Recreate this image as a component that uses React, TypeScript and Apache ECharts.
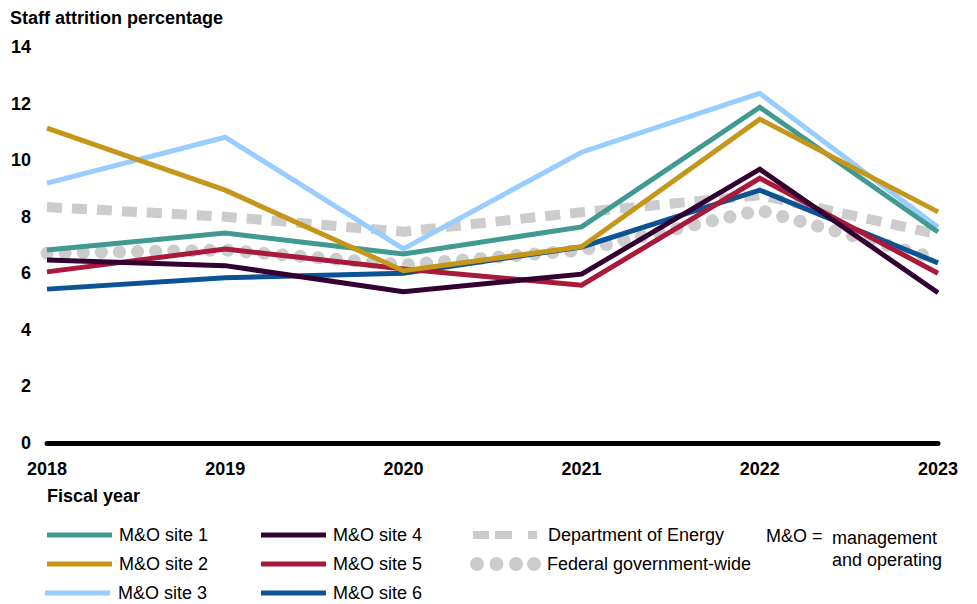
import React, { useEffect, useRef } from "react";
import * as echarts from "echarts";

const years = ["2018", "2019", "2020", "2021", "2022", "2023"];
const site1 = [6.82, 7.42, 6.68, 7.64, 11.87, 7.46];
const site2 = [11.13, 8.94, 6.09, 6.94, 11.45, 8.17];
const site3 = [9.19, 10.81, 6.86, 10.28, 12.36, 7.63];
const site4 = [6.47, 6.27, 5.35, 5.97, 9.68, 5.31];
const site5 = [6.05, 6.86, 6.15, 5.58, 9.36, 6.0];
const site6 = [5.44, 5.84, 6.0, 6.93, 8.94, 6.37];
const doe = [8.34, 8.0, 7.47, 8.16, 8.76, 7.38];
const federal = [6.71, 6.82, 6.3, 6.82, 8.23, 6.5];

const FONT = "'Liberation Sans', Arial, sans-serif";

const SQUARES_ICON = "path://M0,0h16v8h-16z M22,0h17v8h-17z M55,0h9v8h-9z";
const DOTS_ICON =
  "path://M0,7a7,7 0 1,0 14,0a7,7 0 1,0 -14,0z" +
  "M19.5,7a7,7 0 1,0 14,0a7,7 0 1,0 -14,0z" +
  "M39,7a7,7 0 1,0 14,0a7,7 0 1,0 -14,0z" +
  "M57,7a7,7 0 1,0 14,0a7,7 0 1,0 -14,0z";

export default function App() {
  const ref = useRef<HTMLDivElement>(null);
  useEffect(() => {
    document.body.style.margin = "0";
    if (!ref.current) return;
    const chart = echarts.init(ref.current, undefined, { renderer: "svg" });
    const solid = (name: string, data: number[], color: string) => ({
      name,
      type: "line",
      data,
      symbol: "none",
      lineStyle: { color, width: 5, cap: "butt", join: "miter" },
      itemStyle: { color },
    });
    const rowTop = [535, 564, 593];
    const legendItem = (
      name: string,
      left: number,
      row: number,
      icon: string,
      itemWidth: number,
      itemHeight: number,
      pad: number
    ) => ({
      data: [name],
      left,
      top: rowTop[row] - 11,
      orient: "horizontal",
      icon,
      itemWidth,
      itemHeight,
      padding: 0,
      selectedMode: false,
      textStyle: {
        fontSize: 18,
        color: "#000",
        fontFamily: FONT,
        padding: [0, 0, 0, pad],
        height: 22,
        lineHeight: 22,
      },
    });
    chart.setOption({
      animation: false,
      backgroundColor: "#ffffff",
      textStyle: { fontFamily: FONT },
      grid: { left: 47, right: 39, top: 47, bottom: 161, containLabel: false },
      xAxis: {
        type: "category",
        data: years,
        boundaryGap: false,
        axisLine: { lineStyle: { color: "#000", width: 5 } },
        axisTick: { show: false },
        axisLabel: {
          color: "#000",
          fontWeight: "bold",
          fontSize: 18,
          fontFamily: FONT,
          margin: 17,
        },
        splitLine: { show: false },
      },
      yAxis: {
        type: "value",
        min: 0,
        max: 14,
        interval: 2,
        axisLine: { show: false },
        axisTick: { show: false },
        splitLine: { show: false },
        axisLabel: {
          color: "#000",
          fontWeight: "bold",
          fontSize: 18,
          fontFamily: FONT,
          margin: 16,
        },
      },
      legend: [
        legendItem("M&O site 1", 47, 0, "rect", 65, 5, 2),
        legendItem("M&O site 2", 47, 1, "rect", 65, 5, 2),
        legendItem("M&O site 3", 45, 2, "rect", 65, 5, 3),
        legendItem("M&O site 4", 261, 0, "rect", 65, 5, 2),
        legendItem("M&O site 5", 261, 1, "rect", 65, 5, 2),
        legendItem("M&O site 6", 261, 2, "rect", 65, 5, 2),
        legendItem("Department of Energy", 473, 0, SQUARES_ICON, 64, 8, 6),
        legendItem("Federal government-wide", 470, 1, DOTS_ICON, 71, 14, 1),
      ],
      graphic: [
        {
          type: "text",
          left: 10,
          top: 9,
          style: { text: "Staff attrition percentage", font: `bold 18px ${FONT}`, fill: "#000" },
        },
        {
          type: "text",
          left: 47,
          top: 487,
          style: { text: "Fiscal year", font: `bold 18px ${FONT}`, fill: "#000" },
        },
        {
          type: "text",
          left: 766,
          top: 527,
          style: { text: "M&O =", font: `18px ${FONT}`, fill: "#000" },
        },
        {
          type: "text",
          left: 832,
          top: 527,
          style: { text: "management\nand operating", font: `18px ${FONT}`, fill: "#000", lineHeight: 22 },
        },
      ],
      series: [
        {
          name: "Department of Energy",
          type: "line",
          data: doe,
          symbol: "none",
          lineStyle: { color: "#cccccc", width: 10, type: [15, 10], cap: "butt" },
          itemStyle: { color: "#cccccc" },
        },
        {
          name: "Federal government-wide",
          type: "line",
          data: federal,
          symbol: "none",
          lineStyle: { color: "#cccccc", width: 13, type: [0.1, 18], cap: "round" },
          itemStyle: { color: "#cccccc" },
        },
        solid("M&O site 6", site6, "#0b5394"),
        solid("M&O site 5", site5, "#a8193a"),
        solid("M&O site 4", site4, "#330033"),
        solid("M&O site 3", site3, "#99ccff"),
        solid("M&O site 1", site1, "#419a8f"),
        solid("M&O site 2", site2, "#c4961a"),
      ],
    });
    return () => chart.dispose();
  }, []);
  return <div ref={ref} style={{ width: 977, height: 604 }} />;
}
